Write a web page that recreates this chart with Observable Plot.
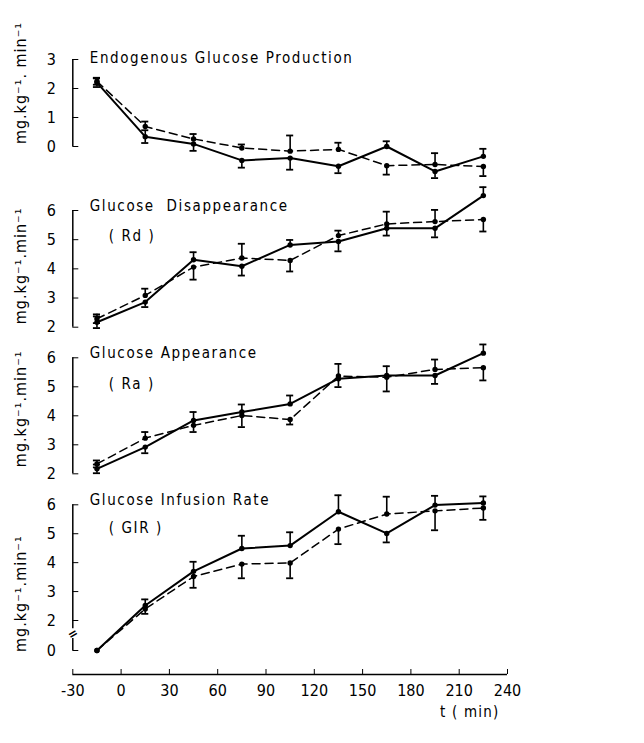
<!DOCTYPE html>
<html><head><meta charset="utf-8">
<script src="https://cdn.jsdelivr.net/npm/d3@7"></script>
<script src="https://cdn.jsdelivr.net/npm/@observablehq/plot@0.6"></script>
<style>
html,body{margin:0;padding:0;background:#fff;}
#chart{position:relative;width:644px;height:743px;overflow:hidden;}
#chart svg{position:absolute;left:0;top:0;background:transparent;overflow:visible;}
.ptitle text{letter-spacing:1.6px;}
.xlab text{letter-spacing:1.2px;}
.ylab text{letter-spacing:1px;}
</style></head><body><div id="chart"></div>
<script>
// ---------- data ----------
const times = [-15, 15, 45, 75, 105, 135, 165, 195, 225];
const xTicks = [-30, 0, 30, 60, 90, 120, 150, 180, 210, 240];
const xLabel = "t ( min)";

const panelTitles = ["Endogenous Glucose Production", "Glucose  Disappearance", "Glucose Appearance", "Glucose Infusion Rate"];
const panelSubtitles = ["", "( Rd )", "( Ra )", "( GIR )"];
const yLabels = ["mg.kg\u207B\u00B9. min\u207B\u00B9", "mg.kg\u207B\u00B9.min\u207B\u00B9", "mg.kg\u207B\u00B9.min\u207B\u00B9", "mg.kg\u207B\u00B9.min\u207B\u00B9"];

const egpTicks = [0, 1, 2, 3];
const rdTicks = [2, 3, 4, 5, 6];
const raTicks = [2, 3, 4, 5, 6];
const girTicks = [0, 2, 3, 4, 5, 6];
const girBreak = [1.1];
const girAxisSegments = [[0, 0.8], [1.45, 6]];

// solid line series / dashed line series; error magnitudes; side: 1 = up, -1 = down, 0 = both
const egpSolid      = [2.20, 0.34, 0.09, -0.48, -0.40, -0.68, 0.00, -0.86, -0.34];
const egpSolidErr   = [0.15, 0.22, 0.24, 0.25, 0.40, 0.24, 0.18, 0.23, 0.26];
const egpSolidSide  = [0, 0, -1, -1, -1, -1, 1, -1, 1];
const egpDashed     = [2.25, 0.69, 0.26, -0.05, -0.16, -0.10, -0.66, -0.62, -0.69];
const egpDashedErr  = [0.12, 0.17, 0.17, 0.12, 0.54, 0.23, 0.31, 0.39, 0.33];
const egpDashedSide = [0, 1, 1, 1, 1, 1, -1, 1, -1];

const rdSolid       = [2.17, 2.86, 4.31, 4.09, 4.82, 4.94, 5.39, 5.39, 6.51];
const rdSolidErr    = [0.20, 0.17, 0.26, 0.32, 0.17, 0.34, 0.25, 0.31, 0.29];
const rdSolidSide   = [0, -1, 1, -1, 1, -1, -1, -1, 1];
const rdDashed      = [2.29, 3.09, 4.06, 4.37, 4.29, 5.14, 5.54, 5.62, 5.69];
const rdDashedErr   = [0.15, 0.23, 0.43, 0.49, 0.38, 0.17, 0.42, 0.40, 0.41];
const rdDashedSide  = [0, 1, -1, 1, -1, 1, 1, 1, -1];

const raSolid       = [2.17, 2.92, 3.84, 4.13, 4.41, 5.28, 5.39, 5.39, 6.16];
const raSolidErr    = [0.15, 0.21, 0.29, 0.26, 0.29, 0.29, 0.32, 0.29, 0.30];
const raSolidSide   = [0, -1, 1, 1, 1, -1, 1, -1, 1];
const raDashed      = [2.34, 3.23, 3.67, 4.01, 3.87, 5.37, 5.33, 5.60, 5.66];
const raDashedErr   = [0.12, 0.21, 0.23, 0.40, 0.17, 0.42, 0.49, 0.34, 0.44];
const raDashedSide  = [0, 1, -1, -1, -1, 1, -1, 1, -1];

const girSolid      = [0, 2.52, 3.70, 4.49, 4.59, 5.76, 5.01, 5.99, 6.06];
const girSolidErr   = [0, 0.21, 0.33, 0.44, 0.46, 0.57, 0.31, 0.32, 0.23];
const girSolidSide  = [0, 1, 1, 1, 1, 1, -1, 1, 1];
const girDashed     = [0, 2.40, 3.52, 3.95, 3.99, 5.16, 5.68, 5.79, 5.89];
const girDashedErr  = [0, 0.17, 0.39, 0.49, 0.53, 0.52, 0.60, 0.67, 0.41];
const girDashedSide = [0, -1, -1, -1, -1, -1, 1, -1, -1];

// ---------- layout ----------
const W = 644, H = 743;
const X0 = 72.3, X1 = 507;
const xDomain = [xTicks[0], xTicks[xTicks.length - 1]];
const FONT = "'DejaVu Sans Condensed','DejaVu Sans',sans-serif";

function rows(vals, errs, sides) {
  return times.map((t, i) => {
    const v = vals[i], e = errs[i], s = sides[i];
    return {t, v, lo: s > 0 ? v : v - e, hi: s < 0 ? v : v + e};
  });
}
function caps(rs) {
  const out = [];
  for (const r of rs) {
    if (r.hi > r.v) out.push({t: r.t, y: r.hi});
    if (r.lo < r.v) out.push({t: r.t, y: r.lo});
  }
  return out;
}

function panel(cfg) {
  const s = rows(cfg.solid, cfg.solidErr, cfg.solidSide);
  const d = rows(cfg.dashed, cfg.dashedErr, cfg.dashedSide);
  const all = s.concat(d);
  const marks = [
    Plot.ruleX(all.filter(r => r.hi > r.lo), {x: "t", y1: "lo", y2: "hi", strokeWidth: 1.6}),
    Plot.ruleY(caps(all), {y: "y", x1: r => r.t - 2.2, x2: r => r.t + 2.2, strokeWidth: 1.8}),
    Plot.line(d, {x: "t", y: "v", strokeWidth: 1.5, strokeDasharray: "8,5"}),
    Plot.line(s, {x: "t", y: "v", strokeWidth: 2}),
    Plot.dot(all, {x: "t", y: "v", r: 2.7, fill: "black"}),
    Plot.axisY(cfg.ticks, {tickSize: -6, tickPadding: 23, tickFormat: v => String(v), label: null, fontSize: 16}),
    Plot.text([cfg.title], {x: xDomain[0], y: cfg.titleY, dx: 17, dy: cfg.titleDy, textAnchor: "start", fontSize: 15, className: "ptitle"}),
    Plot.text([cfg.ylabel], {frameAnchor: "left", textAnchor: "middle", rotate: -90, dx: -52, dy: cfg.ylabDy, fontSize: 16, className: "ylab"})
  ];
  if (cfg.subtitle) marks.push(Plot.text([cfg.subtitle], {x: xDomain[0], y: cfg.subY, dx: 36, dy: cfg.subDy, textAnchor: "start", fontSize: 15, className: "ptitle"}));
  for (const seg of cfg.axisSegments) marks.push(Plot.ruleX([xDomain[0]], {y1: seg[0], y2: seg[1], strokeWidth: 1.5}));
  if (cfg.breaks) marks.push(Plot.text(cfg.breaks, {x: xDomain[0], y: v => v, text: () => "=", rotate: -30, fontSize: 13, fontWeight: "bold"}));
  return Plot.plot({
    width: W, height: H,
    marginLeft: X0, marginRight: W - X1, marginTop: cfg.top, marginBottom: H - cfg.bottom,
    style: {fontFamily: FONT, fontSize: "16px", background: "transparent", color: "black"},
    x: {domain: xDomain, axis: null},
    y: cfg.yScale,
    marks
  });
}

const chart = document.getElementById("chart");

chart.appendChild(panel({
  solid: egpSolid, solidErr: egpSolidErr, solidSide: egpSolidSide,
  dashed: egpDashed, dashedErr: egpDashedErr, dashedSide: egpDashedSide,
  ticks: egpTicks, top: 59, bottom: 146,
  yScale: {domain: [egpTicks[0], egpTicks[egpTicks.length - 1]]},
  axisSegments: [[egpTicks[0], egpTicks[egpTicks.length - 1]]],
  title: panelTitles[0], titleY: 3, titleDy: -1, ylabel: yLabels[0], ylabDy: -20
}));
chart.appendChild(panel({
  solid: rdSolid, solidErr: rdSolidErr, solidSide: rdSolidSide,
  dashed: rdDashed, dashedErr: rdDashedErr, dashedSide: rdDashedSide,
  ticks: rdTicks, top: 210, bottom: 326.7,
  yScale: {domain: [rdTicks[0], rdTicks[rdTicks.length - 1]]},
  axisSegments: [[rdTicks[0], rdTicks[rdTicks.length - 1]]],
  title: panelTitles[1], titleY: 6, titleDy: -4, subtitle: panelSubtitles[1], subY: 5, subDy: -3,
  ylabel: yLabels[1], ylabDy: -3
}));
chart.appendChild(panel({
  solid: raSolid, solidErr: raSolidErr, solidSide: raSolidSide,
  dashed: raDashed, dashedErr: raDashedErr, dashedSide: raDashedSide,
  ticks: raTicks, top: 357.3, bottom: 473.3,
  yScale: {domain: [raTicks[0], raTicks[raTicks.length - 1]]},
  axisSegments: [[raTicks[0], raTicks[raTicks.length - 1]]],
  title: panelTitles[2], titleY: 6, titleDy: -5, subtitle: panelSubtitles[2], subY: 5, subDy: -3,
  ylabel: yLabels[2], ylabDy: -7
}));
chart.appendChild(panel({
  solid: girSolid, solidErr: girSolidErr, solidSide: girSolidSide,
  dashed: girDashed, dashedErr: girDashedErr, dashedSide: girDashedSide,
  ticks: girTicks, top: 504.3, bottom: 650,
  yScale: {type: "linear", domain: [0, 2, 6], range: [650, 620, 504.3]},
  axisSegments: girAxisSegments, breaks: girBreak,
  title: panelTitles[3], titleY: 6, titleDy: -5, subtitle: panelSubtitles[3], subY: 5, subDy: -6,
  ylabel: yLabels[3], ylabDy: 16
}));

// x axis
chart.appendChild(Plot.plot({
  width: W, height: H,
  marginLeft: X0, marginRight: W - X1, marginTop: 600, marginBottom: H - 674,
  style: {fontFamily: FONT, fontSize: "16px", background: "transparent", color: "black"},
  x: {domain: xDomain},
  y: {domain: [0, 1], axis: null},
  marks: [
    Plot.ruleY([0], {strokeWidth: 1.5}),
    Plot.axisX(xTicks, {tickSize: -5, tickPadding: 15, tickFormat: v => String(v), label: null, fontSize: 16}),
    Plot.text([xLabel], {frameAnchor: "bottom-right", dx: -8, dy: 42, textAnchor: "end", fontSize: 15, className: "xlab"})
  ]
}));
</script>
</body></html>
